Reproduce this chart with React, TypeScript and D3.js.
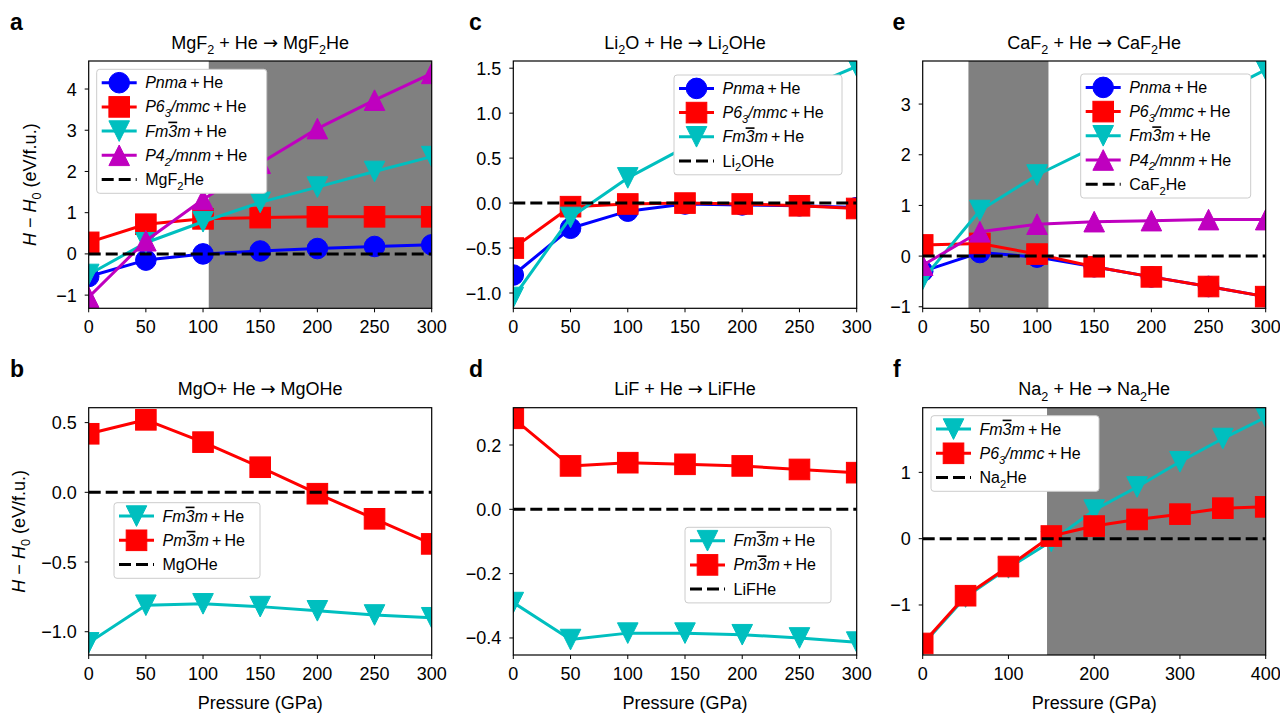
import React from 'react';
import * as d3 from 'd3';

// ---------- data ----------
const P300 = [0, 50, 100, 150, 200, 250, 300];
const P400 = [0, 50, 100, 150, 200, 250, 300, 350, 400];

// a: MgF2
const mgf2Pnma = [-0.55, -0.15, 0.0, 0.07, 0.13, 0.18, 0.22];
const mgf2P63 = [0.28, 0.72, 0.85, 0.88, 0.9, 0.9, 0.9];
const mgf2Fm3m = [-0.5, 0.27, 0.78, 1.25, 1.62, 2.0, 2.36];
const mgf2P42 = [-1.05, 0.32, 1.32, 2.2, 3.04, 3.73, 4.38];

// c: Li2O
const li2oPnma = [-0.8, -0.28, -0.09, -0.01, -0.02, -0.03, -0.05];
const li2oP63 = [-0.5, -0.04, -0.01, 0.0, -0.01, -0.03, -0.06];
const li2oFm3m = [-1.05, -0.16, 0.28, 0.62, 0.95, 1.25, 1.52];

// e: CaF2
const caf2Pnma = [-0.3, 0.07, -0.02, -0.21, -0.41, -0.6, -0.8];
const caf2P63 = [0.22, 0.25, 0.04, -0.21, -0.41, -0.6, -0.8];
const caf2Fm3m = [-0.46, 0.9, 1.6, 2.15, 2.6, 3.1, 3.68];
const caf2P42 = [-0.18, 0.48, 0.63, 0.68, 0.7, 0.72, 0.72];

// b: MgO
const mgoFm3m = [-1.08, -0.81, -0.8, -0.82, -0.85, -0.88, -0.9];
const mgoPm3m = [0.42, 0.52, 0.36, 0.18, -0.01, -0.19, -0.37];

// d: LiF
const lifFm3m = [-0.29, -0.405, -0.385, -0.385, -0.39, -0.4, -0.413];
const lifPm3m = [0.283, 0.135, 0.145, 0.14, 0.135, 0.124, 0.114];

// f: Na2
const na2Fm3m = [-1.6, -0.88, -0.44, -0.04, 0.43, 0.78, 1.16, 1.51, 1.83];
const na2P63 = [-1.58, -0.86, -0.42, 0.04, 0.19, 0.29, 0.37, 0.46, 0.48];

const ticks300 = [0, 50, 100, 150, 200, 250, 300];
const ticks400 = [0, 100, 200, 300, 400];

// ---------- styling ----------
const FONT = '"Liberation Sans", Arial, Helvetica, sans-serif';
const ARROW_FONT = '"DejaVu Sans", sans-serif';
const BLUE = '#0000ff';
const RED = '#ff0000';
const CYAN = '#00bfbf';
const MAG = '#bf00bf';

type Seg = { t: string; i?: boolean; sub?: boolean; over?: boolean; f?: string };

const lbl = {
  pnma: [{ t: 'Pnma', i: true }, { t: '\u2009+\u2009He' }] as Seg[],
  p63: [{ t: 'P', i: true }, { t: '6', i: true }, { t: '3', i: true, sub: true }, { t: '/mmc', i: true }, { t: '\u2009+\u2009He' }] as Seg[],
  fm3m: [{ t: 'Fm', i: true }, { t: '3', i: true, over: true }, { t: 'm', i: true }, { t: '\u2009+\u2009He' }] as Seg[],
  pm3m: [{ t: 'Pm', i: true }, { t: '3', i: true, over: true }, { t: 'm', i: true }, { t: '\u2009+\u2009He' }] as Seg[],
  p42: [{ t: 'P', i: true }, { t: '4', i: true }, { t: '2', i: true, sub: true }, { t: '/mnm', i: true }, { t: '\u2009+\u2009He' }] as Seg[],
};

function RichText({ segs, x, y, fs, anchor = 'start', transform }: any) {
  const out: any[] = [];
  let shifted = false;
  segs.forEach((s: Seg, k: number) => {
    let dy: number | undefined = undefined;
    if (s.sub && !shifted) { dy = fs * 0.3; shifted = true; }
    else if (!s.sub && shifted) { dy = -fs * 0.3; shifted = false; }
    out.push(
      <tspan key={k} dy={dy} fontStyle={s.i ? 'italic' : 'normal'} fontSize={s.sub ? fs * 0.7 : fs}
        fontFamily={s.f || FONT}
        style={s.over ? { textDecoration: 'overline' } : undefined}>{s.t}</tspan>
    );
  });
  return (
    <text x={x} y={y} fontSize={fs} fontFamily={FONT} textAnchor={anchor} transform={transform} fill="#000">{out}</text>
  );
}

function Marker({ shape, x, y, color }: any) {
  const s = 10.3;
  if (shape === 'o') return <circle cx={x} cy={y} r={s} fill={color} stroke={color} strokeWidth={1} />;
  if (shape === 's') return <rect x={x - s} y={y - s} width={2 * s} height={2 * s} fill={color} stroke={color} strokeWidth={1} />;
  if (shape === 'v') return <polygon points={`${x - s},${y - s} ${x + s},${y - s} ${x},${y + s}`} fill={color} stroke={color} strokeWidth={1} />;
  return <polygon points={`${x - s},${y + s} ${x + s},${y + s} ${x},${y - s}`} fill={color} stroke={color} strokeWidth={1} />;
}

const sub = (a: string, b: string, c: string): Seg[] => [{ t: a }, { t: b, sub: true }, { t: c }];
const ARROW: Seg = { t: '\u2192', f: ARROW_FONT };

const panels = [
  {
    id: 'a', letterX: 10, xs: P300, xMax: 300, xTicks: ticks300, x0: 88.7, x1: 431.7, y0: 61, y1: 308.3,
    yDomain: [-1.32, 4.68], yTicks: [-1, 0, 1, 2, 3, 4], fmt: 'd', shade: [105, 300],
    title: [{ t: 'MgF' }, { t: '2', sub: true }, { t: ' + He ' }, ARROW, { t: ' MgF' }, { t: '2', sub: true }, { t: 'He' }],
    series: [
      { v: mgf2Pnma, c: BLUE, m: 'o', l: lbl.pnma },
      { v: mgf2P63, c: RED, m: 's', l: lbl.p63 },
      { v: mgf2Fm3m, c: CYAN, m: 'v', l: lbl.fm3m },
      { v: mgf2P42, c: MAG, m: '^', l: lbl.p42 },
    ],
    refLabel: sub('MgF', '2', 'He'), legend: { x: 96.7, y: 69.3, w: 170 }, ylabelX: 36, xlabel: false,
  },
  {
    id: 'c', letterX: 469, xs: P300, xMax: 300, xTicks: ticks300, x0: 513.3, x1: 856.7, y0: 61, y1: 308.3,
    yDomain: [-1.17, 1.58], yTicks: [-1, -0.5, 0, 0.5, 1, 1.5], fmt: '.1f', shade: null,
    title: [{ t: 'Li' }, { t: '2', sub: true }, { t: 'O + He ' }, ARROW, { t: ' Li' }, { t: '2', sub: true }, { t: 'OHe' }],
    series: [
      { v: li2oPnma, c: BLUE, m: 'o', l: lbl.pnma },
      { v: li2oP63, c: RED, m: 's', l: lbl.p63 },
      { v: li2oFm3m, c: CYAN, m: 'v', l: lbl.fm3m },
    ],
    refLabel: sub('Li', '2', 'OHe'), legend: { x: 674, y: 75, w: 168 }, ylabelX: null, xlabel: false,
  },
  {
    id: 'e', letterX: 892.5, xs: P300, xMax: 300, xTicks: ticks300, x0: 922.7, x1: 1265.7, y0: 61, y1: 308.3,
    yDomain: [-1.03, 3.85], yTicks: [-1, 0, 1, 2, 3], fmt: 'd', shade: [40, 110],
    title: [{ t: 'CaF' }, { t: '2', sub: true }, { t: ' + He ' }, ARROW, { t: ' CaF' }, { t: '2', sub: true }, { t: 'He' }],
    series: [
      { v: caf2Pnma, c: BLUE, m: 'o', l: lbl.pnma },
      { v: caf2P63, c: RED, m: 's', l: lbl.p63 },
      { v: caf2Fm3m, c: CYAN, m: 'v', l: lbl.fm3m },
      { v: caf2P42, c: MAG, m: '^', l: lbl.p42 },
    ],
    refLabel: sub('CaF', '2', 'He'), legend: { x: 1080.7, y: 74, w: 170 }, ylabelX: null, xlabel: false,
  },
  {
    id: 'b', letterX: 10, xs: P300, xMax: 300, xTicks: ticks300, x0: 88.7, x1: 431.7, y0: 407.7, y1: 655,
    yDomain: [-1.167, 0.607], yTicks: [-1, -0.5, 0, 0.5], fmt: '.1f', shade: null,
    title: [{ t: 'MgO+ He ' }, ARROW, { t: ' MgOHe' }],
    series: [
      { v: mgoFm3m, c: CYAN, m: 'v', l: lbl.fm3m },
      { v: mgoPm3m, c: RED, m: 's', l: lbl.pm3m },
    ],
    refLabel: [{ t: 'MgOHe' }], legend: { x: 114, y: 502.7, w: 146 }, ylabelX: 25, xlabel: true,
  },
  {
    id: 'd', letterX: 469, xs: P300, xMax: 300, xTicks: ticks300, x0: 513.3, x1: 856.7, y0: 407.7, y1: 655,
    yDomain: [-0.453, 0.316], yTicks: [-0.4, -0.2, 0, 0.2], fmt: '.1f', shade: null,
    title: [{ t: 'LiF + He ' }, ARROW, { t: ' LiFHe' }],
    series: [
      { v: lifFm3m, c: CYAN, m: 'v', l: lbl.fm3m },
      { v: lifPm3m, c: RED, m: 's', l: lbl.pm3m },
    ],
    refLabel: [{ t: 'LiFHe' }], legend: { x: 685, y: 527.3, w: 146 }, ylabelX: null, xlabel: true,
  },
  {
    id: 'f', letterX: 893, xs: P400, xMax: 400, xTicks: ticks400, x0: 922.7, x1: 1265.7, y0: 407.7, y1: 655,
    yDomain: [-1.754, 1.975], yTicks: [-1, 0, 1], fmt: 'd', shade: [145, 400],
    title: [{ t: 'Na' }, { t: '2', sub: true }, { t: ' + He ' }, ARROW, { t: ' Na' }, { t: '2', sub: true }, { t: 'He' }],
    series: [
      { v: na2Fm3m, c: CYAN, m: 'v', l: lbl.fm3m },
      { v: na2P63, c: RED, m: 's', l: lbl.p63 },
    ],
    refLabel: sub('Na', '2', 'He'), legend: { x: 931, y: 415.7, w: 168 }, ylabelX: null, xlabel: true,
  },
];

const ylabelSegs: Seg[] = [{ t: 'H', i: true }, { t: ' \u2212 ' }, { t: 'H', i: true }, { t: '0', sub: true }, { t: ' (eV/f.u.)' }];

function fmtTick(v: number, f: string) {
  const s = d3.format(f)(v);
  return s.replace('-', '\u2212');
}

function Panel({ p }: any) {
  const x = d3.scaleLinear().domain([0, p.xMax]).range([p.x0, p.x1]);
  const y = d3.scaleLinear().domain(p.yDomain).range([p.y1, p.y0]);
  const line = d3.line<number>().x((_, i) => x(p.xs[i])).y((d) => y(d));
  const clipId = `clip-${p.id}`;
  const cx = (p.x0 + p.x1) / 2;
  const cy = (p.y0 + p.y1) / 2;
  const rowH = 24.2;
  const nRows = p.series.length + 1;
  const lg = p.legend;
  return (
    <g>
      <defs>
        <clipPath id={clipId}>
          <rect x={p.x0} y={p.y0} width={p.x1 - p.x0} height={p.y1 - p.y0} />
        </clipPath>
      </defs>
      <text x={p.letterX} y={p.y0 - 31} fontSize={23} fontWeight="bold" fontFamily={FONT}>{p.id}</text>
      <RichText segs={p.title} x={cx} y={p.y0 - 12.5} fs={18} anchor="middle" />
      <g clipPath={`url(#${clipId})`}>
        {p.shade && (
          <rect x={x(p.shade[0])} y={p.y0} width={x(p.shade[1]) - x(p.shade[0])} height={p.y1 - p.y0} fill="#808080" />
        )}
        {p.series.map((s: any, k: number) => (
          <g key={k}>
            <path d={line(s.v) || ''} fill="none" stroke={s.c} strokeWidth={3} strokeLinejoin="round" />
            {s.v.map((v: number, i: number) => (
              <Marker key={i} shape={s.m} x={x(p.xs[i])} y={y(v)} color={s.c} />
            ))}
          </g>
        ))}
        <line x1={x(0)} x2={x(p.xMax)} y1={y(0)} y2={y(0)} stroke="#000" strokeWidth={3} strokeDasharray="12,5" />
      </g>
      <rect x={p.x0} y={p.y0} width={p.x1 - p.x0} height={p.y1 - p.y0} fill="none" stroke="#000" strokeWidth={1.2} />
      {p.xTicks.map((t: number) => (
        <g key={t}>
          <line x1={x(t)} x2={x(t)} y1={p.y1} y2={p.y1 + 4} stroke="#000" strokeWidth={1} />
          <text x={x(t)} y={p.y1 + 25} fontSize={18} fontFamily={FONT} textAnchor="middle">{t}</text>
        </g>
      ))}
      {p.yTicks.map((t: number) => (
        <g key={t}>
          <line x1={p.x0 - 4} x2={p.x0} y1={y(t)} y2={y(t)} stroke="#000" strokeWidth={1} />
          <text x={p.x0 - 12} y={y(t) + 6.5} fontSize={18} fontFamily={FONT} textAnchor="end">{fmtTick(t, p.fmt)}</text>
        </g>
      ))}
      {p.xlabel && (
        <text x={cx} y={709} fontSize={18} fontFamily={FONT} textAnchor="middle">Pressure (GPa)</text>
      )}
      {p.ylabelX != null && (
        <RichText segs={ylabelSegs} x={0} y={0} fs={18} anchor="middle" transform={`translate(${p.ylabelX},${cy}) rotate(-90)`} />
      )}
      <g>
        <rect x={lg.x} y={lg.y} width={lg.w} height={nRows * rowH + 3} rx={3} fill="#fff" stroke="#cccccc" strokeWidth={1} />
        {p.series.map((s: any, k: number) => {
          const ry = lg.y + 13.4 + k * rowH;
          return (
            <g key={k}>
              <line x1={lg.x + 5} x2={lg.x + 40} y1={ry} y2={ry} stroke={s.c} strokeWidth={3} />
              <Marker shape={s.m} x={lg.x + 22.5} y={ry} color={s.c} />
              <RichText segs={s.l} x={lg.x + 48.5} y={ry + 5.5} fs={16} />
            </g>
          );
        })}
        {(() => {
          const ry = lg.y + 13.4 + p.series.length * rowH;
          return (
            <g>
              <line x1={lg.x + 5} x2={lg.x + 40} y1={ry} y2={ry} stroke="#000" strokeWidth={3} strokeDasharray="12,5" />
              <RichText segs={p.refLabel} x={lg.x + 48.5} y={ry + 5.5} fs={16} />
            </g>
          );
        })()}
      </g>
    </g>
  );
}

export default function App() {
  return (
    <svg width={1280} height={713} style={{ position: 'absolute', left: 0, top: 0, background: '#fff' }}>
      <rect x={0} y={0} width={1280} height={713} fill="#fff" />
      {panels.map((p) => (
        <Panel key={p.id} p={p} />
      ))}
    </svg>
  );
}
